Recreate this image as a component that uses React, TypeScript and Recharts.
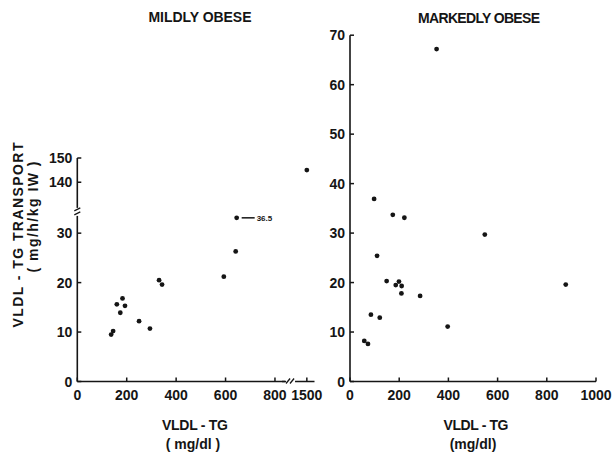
import {
  ScatterChart,
  Scatter,
  XAxis,
  YAxis,
  ReferenceDot,
} from "recharts";

// Mildly obese: VLDL-TG (mg/dl) vs VLDL-TG transport (mg/h/kg IW)
const mildTg = [1500, 645, 641, 593, 343, 331, 294, 250, 193, 183, 160, 174, 145, 137];
const mildTransport = [145, 36.5, 26.3, 21.2, 19.6, 20.5, 10.7, 12.2, 15.3, 16.8, 15.6, 13.9, 10.2, 9.5];

// Markedly obese
const markedTg = [352, 98, 174, 221, 548, 110, 149, 186, 199, 210, 209, 285, 877, 85, 121, 397, 58, 73];
const markedTransport = [67.2, 36.9, 33.7, 33.1, 29.7, 25.4, 20.3, 19.5, 20.2, 19.3, 17.8, 17.3, 19.6, 13.5, 12.9, 11.1, 8.2, 7.6];

const mildXTicks = [0, 200, 400, 600, 800, 1500];
const mildYTicks = [0, 10, 20, 30, 140, 150];
const markedXTicks = [0, 200, 400, 600, 800, 1000];
const markedYTicks = [0, 10, 20, 30, 40, 50, 60, 70];

const INK = "#151515";
const FONT = "'Liberation Sans', Arial, sans-serif";

// broken axes on the left panel
const toMildX = (v: number) => (v > 1400 ? 919 + (v - 1400) / 10 : v);
const fromMildX = (v: number) => (v > 900 ? Math.round(1400 + (v - 919) * 10) : v);
const toMildY = (v: number) => (v >= 140 ? 40.3 + (v - 140) * 0.49 : Math.min(v, 33.1));
const fromMildY = (v: number) => (v > 35 ? Math.round(140 + (v - 40.3) / 0.49) : v);

const mildData = mildTg.map((tg, i) => ({
  x: toMildX(tg),
  y: toMildY(mildTransport[i]),
  real: mildTransport[i],
}));
const markedData = markedTg.map((tg, i) => ({ x: tg, y: markedTransport[i] }));
const offScale = mildData.find((d) => d.real > 34 && d.real < 140);

const Dot = (props: any) => <circle cx={props.cx} cy={props.cy} r={2.4} fill={INK} />;

const makeYTick = (fmt: (v: number) => number) => (props: any) => {
  const { x, y, payload } = props;
  return (
    <g>
      <line x1={x} x2={x + 4} y1={y} y2={y} stroke={INK} strokeWidth={1.5} />
      <text x={x - 5} y={y} dy={5} textAnchor="end" fontSize={14} fontWeight="bold" fontFamily={FONT} fill={INK}>
        {fmt(payload.value)}
      </text>
    </g>
  );
};

const makeXTick = (fmt: (v: number) => number) => (props: any) => {
  const { x, y, payload } = props;
  return (
    <g>
      <line x1={x} x2={x} y1={y} y2={y - 4} stroke={INK} strokeWidth={1.5} />
      <text x={x} y={y + 18} textAnchor="middle" fontSize={14} fontWeight="bold" fontFamily={FONT} fill={INK}>
        {fmt(payload.value)}
      </text>
    </g>
  );
};

// gap in the vertical axis line
const YBreak = (props: any) => {
  const { cx, cy } = props;
  return (
    <g>
      <rect x={cx - 3} y={cy - 4} width={6} height={8} fill="#fff" />
      <line x1={cx - 3} y1={cy - 1} x2={cx + 3} y2={cy - 4} stroke={INK} strokeWidth={1.3} />
      <line x1={cx - 3} y1={cy + 3} x2={cx + 3} y2={cy} stroke={INK} strokeWidth={1.3} />
    </g>
  );
};

// gap in the horizontal axis line
const XBreak = (props: any) => {
  const { cx, cy } = props;
  return (
    <g>
      <rect x={cx - 5} y={cy - 3} width={10} height={6} fill="#fff" />
      <line x1={cx - 8} y1={cy} x2={cx - 4} y2={cy} stroke={INK} strokeWidth={1.5} />
      <line x1={cx - 4} y1={cy + 2} x2={cx} y2={cy - 3} stroke={INK} strokeWidth={1.3} />
      <line x1={cx} y1={cy + 2} x2={cx + 4} y2={cy - 3} stroke={INK} strokeWidth={1.3} />
    </g>
  );
};

const OffScaleLabel = (props: any) => {
  const { cx, cy } = props;
  return (
    <g>
      <line x1={cx + 5} x2={cx + 18} y1={cy} y2={cy} stroke={INK} strokeWidth={1.5} />
      <text x={cx + 20} y={cy + 3} fontSize={8} fontWeight="bold" fontFamily={FONT} fill={INK}>
        {offScale ? offScale.real : ""}
      </text>
    </g>
  );
};

const axisProps = {
  type: "number" as const,
  allowDataOverflow: true,
  interval: 0 as const,
  tickSize: 0,
  tickMargin: 0,
  tickLine: false,
  axisLine: { stroke: INK, strokeWidth: 1.6 },
};

const W = 613;
const H = 455;

export default function App() {
  return (
    <div style={{ position: "absolute", left: 0, top: 0, width: W, height: H, background: "#fff" }}>
      <div style={{ position: "absolute", left: 0, top: 0 }}>
        <ScatterChart width={W} height={H} margin={{ top: 158, left: 47.3, right: W - 314.5, bottom: 53.5 }}>
          <XAxis
            {...axisProps}
            dataKey="x"
            height={20}
            domain={[0, 960]}
            ticks={mildXTicks.map(toMildX)}
            tick={makeXTick(fromMildX)}
          />
          <YAxis
            {...axisProps}
            dataKey="y"
            width={30}
            domain={[0, 45.2]}
            ticks={mildYTicks.map(toMildY)}
            tick={makeYTick(fromMildY)}
          />
          <Scatter data={mildData} shape={Dot} isAnimationActive={false} />
          {offScale && (
            <ReferenceDot x={offScale.x} y={offScale.y} ifOverflow="visible" shape={OffScaleLabel} />
          )}
          <ReferenceDot x={0} y={34.3} ifOverflow="visible" shape={YBreak} />
          <ReferenceDot x={861} y={0} ifOverflow="visible" shape={XBreak} />
        </ScatterChart>
      </div>
      <div style={{ position: "absolute", left: 0, top: 0 }}>
        <ScatterChart width={W} height={H} margin={{ top: 35.2, left: 320, right: W - 596, bottom: 53.5 }}>
          <XAxis
            {...axisProps}
            dataKey="x"
            height={20}
            domain={[0, 1000]}
            ticks={markedXTicks}
            tick={makeXTick((v) => v)}
          />
          <YAxis
            {...axisProps}
            dataKey="y"
            width={30}
            domain={[0, 70]}
            ticks={markedYTicks}
            tick={makeYTick((v) => v)}
          />
          <Scatter data={markedData} shape={Dot} isAnimationActive={false} />
        </ScatterChart>
      </div>
      {/* titles and axis labels */}
      <svg width={W} height={H} style={{ position: "absolute", left: 0, top: 0, pointerEvents: "none" }}>
        <g fontFamily={FONT} fontWeight="bold" fill={INK} fontSize={14}>
          <text x={200} y={22} textAnchor="middle" textLength={103}>MILDLY OBESE</text>
          <text x={479} y={23} textAnchor="middle" textLength={122}>MARKEDLY OBESE</text>
          <text x={195} y={430} textAnchor="middle" textLength={66}>VLDL - TG</text>
          <text x={193} y={449} textAnchor="middle">( mg/dl )</text>
          <text x={476} y={430} textAnchor="middle" textLength={65}>VLDL - TG</text>
          <text x={473} y={449} textAnchor="middle">(mg/dl)</text>
          <text transform="translate(23,235) rotate(-90)" textAnchor="middle" textLength={185}>
            VLDL - TG  TRANSPORT
          </text>
          <text transform="translate(38,217) rotate(-90)" textAnchor="middle" textLength={111}>
            ( mg/h/kg IW )
          </text>
        </g>
      </svg>
    </div>
  );
}
